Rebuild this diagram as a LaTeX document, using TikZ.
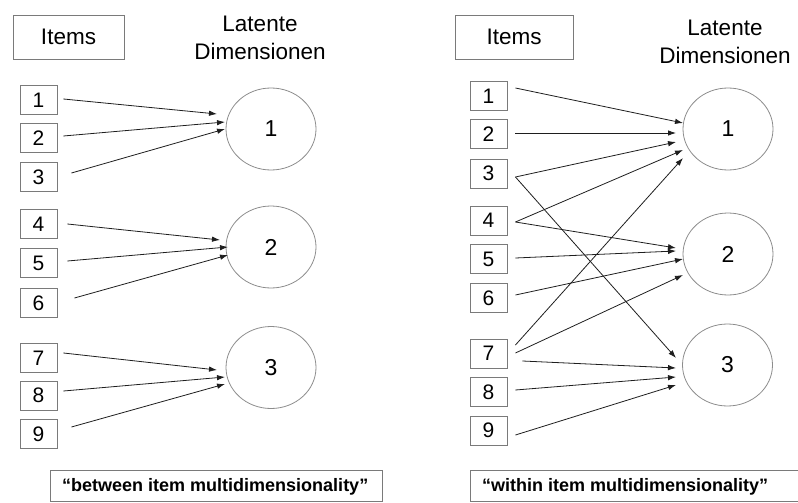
\documentclass[tikz,border=0pt]{standalone}
\usepackage{fontspec}
\setmainfont{Liberation Sans}
\usetikzlibrary{arrows.meta,shapes.geometric}
\definecolor{boxgray}{HTML}{7A7A7A}
\definecolor{circgray}{HTML}{8C8C8C}
\definecolor{arrdark}{HTML}{1E1E1E}
\begin{document}
\begin{tikzpicture}[x=1pt,y=-1pt,
  hdrbox/.style={draw=boxgray,line width=0.9pt,minimum height=44pt,inner sep=0pt,font=\fontsize{22.5}{27}\selectfont},
  lattext/.style={align=center,inner sep=0pt,font=\fontsize{22.5}{28}\selectfont},
  itembox/.style={draw=boxgray,line width=0.9pt,minimum width=37pt,minimum height=29pt,inner sep=0pt,font=\fontsize{21}{21}\selectfont},
  dimcirc/.style={ellipse,draw=circgray,line width=0.8pt,minimum width=90pt,minimum height=82pt,inner sep=0pt,font=\fontsize{23}{23}\selectfont},
  captext/.style={inner sep=0pt,anchor=west,font=\fontsize{18}{18}\selectfont\bfseries},
  capline/.style={draw=boxgray,line width=0.9pt},
  arr/.style={draw=arrdark,line width=0.8pt,-{Latex[length=8pt,width=5.5pt]}}
]
\useasboundingbox (0,0) rectangle (798,503);

% ---------------- left panel ----------------
\node[hdrbox,minimum width=111pt] (itemsL) at (68.5,37) {Items};
\node[lattext] (latL) at (260,37.5) {Latente\\Dimensionen};

\foreach \i/\y in {1/100,2/138,3/177,4/224,5/263,6/303,7/358,8/395.5,9/434}
  \node[itembox] (L\i) at (38.5,\y) {\i};

\node[dimcirc] (CL1) at (271,129) {1};
\node[dimcirc] (CL2) at (271,247) {2};
\node[dimcirc] (CL3) at (271,367.5) {3};

\coordinate (tL1) at (217,114);
\coordinate (tL2) at (225,122);
\coordinate (tL3) at (225,129);
\coordinate (tL4) at (220,240);
\coordinate (tL5) at (228,247);
\coordinate (tL6) at (228,255);
\coordinate (tL7) at (217,370);
\coordinate (tL8) at (225,377);
\coordinate (tL9) at (225,384);

\draw[arr] ([shift={(6,-1)}]L1.east) -- (tL1);
\draw[arr] ([shift={(6,-2)}]L2.east) -- (tL2);
\draw[arr] ([shift={(14,-4)}]L3.east) -- (tL3);
\draw[arr] ([shift={(10,0)}]L4.east) -- (tL4);
\draw[arr] ([shift={(10,-2)}]L5.east) -- (tL5);
\draw[arr] ([shift={(17,-5)}]L6.east) -- (tL6);
\draw[arr] ([shift={(6,-5)}]L7.east) -- (tL7);
\draw[arr] ([shift={(6,-4.5)}]L8.east) -- (tL8);
\draw[arr] ([shift={(14,-7)}]L9.east) -- (tL9);

\draw[capline] (50,470) rectangle (382,501);
\node[captext] (capL) at (62,487) {“between item multidimensionality”};

% ---------------- right panel ----------------
\node[hdrbox,minimum width=118pt] (itemsR) at (514,37) {Items};
\node[lattext] (latR) at (725,41.5) {Latente\\Dimensionen};

\foreach \i/\y in {1/96,2/134,3/173.5,4/220.5,5/259,6/298,7/353.5,8/392,9/430.5}
  \node[itembox] (R\i) at (488.5,\y) {\i};

\node[dimcirc] (CR1) at (728,129) {1};
\node[dimcirc] (CR2) at (728,254) {2};
\node[dimcirc] (CR3) at (727.5,365) {3};

\coordinate (tR11) at (683,123);
\coordinate (tR21) at (676,133);
\coordinate (tR31) at (676,142);
\coordinate (tR41) at (683,150);
\coordinate (tR71) at (683,158);
\coordinate (tR42) at (676,248);
\coordinate (tR52) at (676,251);
\coordinate (tR62) at (683,259);
\coordinate (tR72) at (683,275);
\coordinate (tR33) at (676,358);
\coordinate (tR73) at (676,368);
\coordinate (tR83) at (676,377);
\coordinate (tR93) at (676,385);

\draw[arr] ([shift={(8,-8)}]R1.east) -- (tR11);
\draw[arr] ([shift={(8,-1)}]R2.east) -- (tR21);
\draw[arr] ([shift={(8,3.5)}]R3.east) -- (tR31);
\draw[arr] ([shift={(8,3.5)}]R3.east) -- (tR33);
\draw[arr] ([shift={(8,1.5)}]R4.east) -- (tR41);
\draw[arr] ([shift={(8,1.5)}]R4.east) -- (tR42);
\draw[arr] ([shift={(8,-1)}]R5.east) -- (tR52);
\draw[arr] ([shift={(8,-3)}]R6.east) -- (tR62);
\draw[arr] ([shift={(8,-8.5)}]R7.east) -- (tR71);
\draw[arr] ([shift={(8,-0.5)}]R7.east) -- (tR72);
\draw[arr] ([shift={(15,7.5)}]R7.east) -- (tR73);
\draw[arr] ([shift={(8,-2)}]R8.east) -- (tR83);
\draw[arr] ([shift={(8,4.5)}]R9.east) -- (tR93);

\draw[capline] (799,470) -- (470,470) -- (470,501) -- (799,501);
\node[captext] (capR) at (482,487) {“within item multidimensionality”};
\end{tikzpicture}
\end{document}
